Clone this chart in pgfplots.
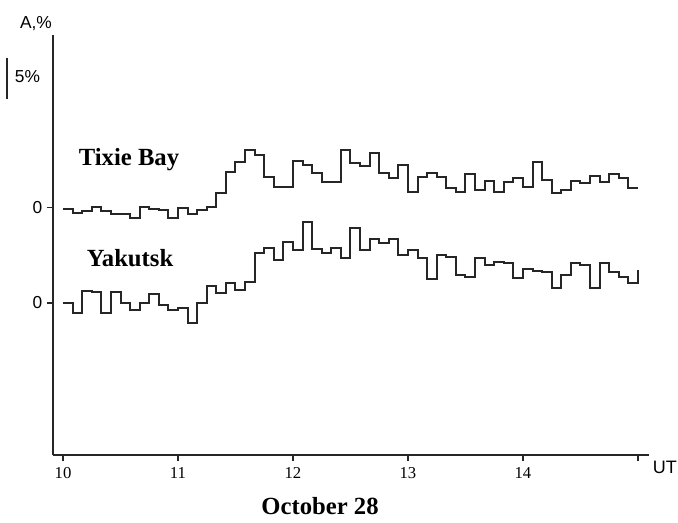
\documentclass[border=0pt]{standalone}
\usepackage{pgfplots}
\pgfplotsset{compat=1.18}
\usepackage{pgfplotstable}
\usepackage{fontspec}
\setmainfont{Liberation Serif}
\setsansfont{Liberation Sans}

% A, % at 5-minute steps, UT hours
\pgfplotstableread{
t A
10.0000 -0.12
10.0833 -0.61
10.1667 -0.37
10.2500 0.12
10.3333 -0.37
10.4167 -0.73
10.5000 -0.73
10.5833 -1.22
10.6667 0.12
10.7500 -0.12
10.8333 -0.24
10.9167 -1.22
11.0000 0.00
11.0833 -0.73
11.1667 -0.24
11.2500 0.16
11.3333 1.79
11.4167 4.43
11.5000 5.65
11.5833 7.07
11.6667 6.46
11.7500 3.82
11.8333 2.60
11.9167 2.60
12.0000 5.77
12.0833 5.24
12.1667 4.23
12.2500 3.13
12.3333 3.13
12.4167 7.07
12.5000 5.52
12.5833 5.12
12.6667 6.67
12.7500 4.23
12.8333 3.62
12.9167 5.24
13.0000 1.99
13.0833 3.82
13.1667 4.23
13.2500 3.74
13.3333 2.40
13.4167 1.99
13.5000 4.11
13.5833 2.20
13.6667 3.33
13.7500 1.99
13.8333 3.21
13.9167 3.62
14.0000 2.60
14.0833 5.57
14.1667 3.41
14.2500 1.87
14.3333 2.20
14.4167 3.33
14.5000 3.01
14.5833 3.90
14.6667 3.21
14.7500 4.11
14.8333 3.62
14.9167 2.48
15.0000 2.48
}\tixie

\pgfplotstableread{
t A
10.0000 0.04
10.0833 -1.18
10.1667 1.50
10.2500 1.30
10.3333 -1.18
10.4167 1.38
10.5000 -0.04
10.5833 -0.85
10.6667 0.04
10.7500 1.10
10.8333 -0.24
10.9167 -0.85
11.0000 -0.65
11.0833 -2.40
11.1667 0.04
11.2500 2.11
11.3333 1.26
11.4167 2.48
11.5000 1.59
11.5833 2.60
11.6667 6.06
11.7500 6.67
11.8333 5.24
11.9167 7.40
12.0000 6.46
12.0833 9.91
12.1667 6.55
12.2500 6.13
12.3333 6.67
12.4167 5.45
12.5000 9.11
12.5833 6.46
12.6667 7.80
12.7500 7.28
12.8333 7.80
12.9167 5.85
13.0000 6.46
13.0833 5.45
13.1667 2.89
13.2500 5.85
13.3333 5.65
13.4167 3.41
13.5000 3.13
13.5833 5.45
13.6667 4.63
13.7500 5.04
13.8333 4.91
13.9167 3.01
14.0000 4.11
14.0833 3.94
14.1667 3.82
14.2500 1.87
14.3333 3.41
14.4167 4.91
14.5000 4.63
14.5833 1.79
14.6667 4.91
14.7500 3.82
14.8333 3.13
14.9167 2.48
15.0000 4.02
}\yakutsk

\begin{document}
\begin{tikzpicture}[x=0.75pt,y=0.75pt]
\path[use as bounding box] (-53,-67) rectangle (625,455);
\begin{axis}[
    scale only axis,
    width=447pt, height=315pt,
    xmin=9.913, xmax=15.096,
    ymin=-18.54, ymax=32.68,
    axis x line=bottom, axis y line=left,
    axis line style={-, black!85, line width=1pt},
    xtick={10,11,12,13,14,15},
    xticklabels={10,11,12,13,14,},
    ytick={0,11.59},
    yticklabels={0,0},
    tick align=outside,
    major tick length=4.5pt,
    tick style={black!85, line width=0.8pt},
    xticklabel style={font=\fontsize{12.5}{14}\selectfont, yshift=-1pt},
    yticklabel style={font=\sffamily\fontsize{13}{15}\selectfont},
    clip=false,
]
\addplot[const plot, black!85, line width=1.5pt] table[x=t, y expr=\thisrow{A}+11.59] {\tixie};
\addplot[const plot, black!85, line width=1.5pt] table[x=t, y=A] {\yakutsk};

% 5% scale bar
\draw[black!85, line width=1pt] (axis cs:9.513,24.88) -- (axis cs:9.513,29.88);
\node[font=\sffamily\fontsize{13}{15}\selectfont] at (axis cs:9.691,27.56) {5\%};
\node[font=\sffamily\fontsize{13}{15}\selectfont] at (axis cs:9.765,34.1) {A,\%};
\node[font=\sffamily\fontsize{13.5}{15}\selectfont] at (axis cs:15.235,-20.0) {UT};
\node[font=\bfseries\fontsize{18.5}{20}\selectfont] at (axis cs:10.574,17.44) {Tixie Bay};
\node[font=\bfseries\fontsize{18.5}{20}\selectfont] at (axis cs:10.583,5.49) {Yakutsk};
\node[font=\bfseries\fontsize{18.5}{20}\selectfont] at (axis cs:12.235,-24.8) {October 28};
\end{axis}
\end{tikzpicture}
\end{document}
